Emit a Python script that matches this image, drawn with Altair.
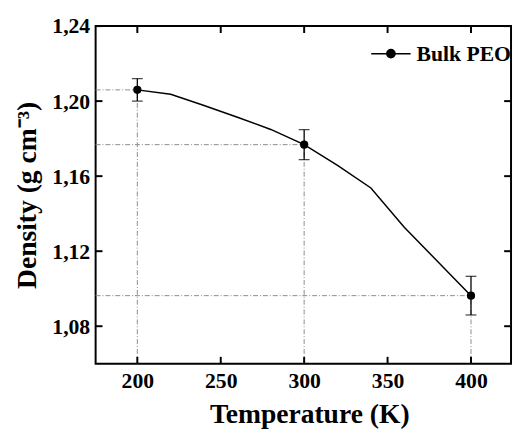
import altair as alt
import pandas as pd

# ---- data ----
temps = [200, 220, 240, 260, 280, 300, 320, 340, 360, 380, 400]
density = [1.206, 1.2037, 1.1977, 1.1914, 1.1849, 1.1768, 1.1657, 1.1537, 1.1328, 1.1145, 1.0963]
meas_T = [200, 300, 400]
meas_D = [1.206, 1.1768, 1.0963]
meas_err = [0.006, 0.008, 0.0103]
series_name = "Bulk PEO"
x_ticks = [200, 250, 300, 350, 400]
y_ticks = [1.08, 1.12, 1.16, 1.20, 1.24]
x_domain = [175, 424]
y_domain = [1.06, 1.24]

FONT = "Liberation Serif"

line_df = pd.DataFrame({"T": temps, "D": density, "series": series_name})
pts_df = pd.DataFrame({
    "T": meas_T, "D": meas_D,
    "lo": [d - e for d, e in zip(meas_D, meas_err)],
    "hi": [d + e for d, e in zip(meas_D, meas_err)],
    "x0": x_domain[0], "y0": y_domain[0],
    "series": series_name,
})
caps_df = pd.concat([
    pd.DataFrame({"T": meas_T, "c": pts_df["lo"]}),
    pd.DataFrame({"T": meas_T, "c": pts_df["hi"]}),
])
xtick_df = pd.DataFrame({"v": x_ticks, "lo": y_domain[0], "hi": y_domain[1]})
ytick_df = pd.DataFrame({"v": y_ticks, "lo": x_domain[0], "hi": x_domain[1]})

xs = alt.Scale(domain=x_domain, nice=False, zero=False)
ys = alt.Scale(domain=y_domain, nice=False, zero=False)

common_axis = dict(domain=False, ticks=False, grid=False,
                   labelFont=FONT, labelFontSize=22, labelFontWeight="bold",
                   labelColor="black", titleFont=FONT, titleFontSize=28,
                   titleFontWeight="bold", titleColor="black")

AX = alt.Axis(values=x_ticks, orient="bottom", title="Temperature (K)",
              labelPadding=7, titlePadding=10, titleX=217, **common_axis)
AY = alt.Axis(values=y_ticks, orient="left", title="Density (g cm\u207b\u00b3)",
              labelExpr="replace(format(datum.value, '.2f'), '.', ',')",
              labelPadding=6, titlePadding=11, **common_axis)


def X(f):
    return alt.X(f, scale=xs, axis=AX)


def Y(f):
    return alt.Y(f, scale=ys, axis=AY)


ref_style = dict(color="#8c8c8c", strokeWidth=1, strokeDash=[5, 2, 1, 2])

ref_h = alt.Chart(pts_df).mark_rule(**ref_style).encode(x=X("x0:Q"), x2="T:Q", y=Y("D:Q"))
ref_v = alt.Chart(pts_df).mark_rule(**ref_style).encode(x=X("T:Q"), y=Y("y0:Q"), y2="D:Q")
err = alt.Chart(pts_df).mark_rule(color="black", strokeWidth=1.3).encode(
    x=X("T:Q"), y=Y("lo:Q"), y2="hi:Q")
caps = alt.Chart(caps_df).mark_tick(color="black", orient="horizontal", size=11, thickness=1.3).encode(
    x=X("T:Q"), y=Y("c:Q"))

# inward ticks on all four sides of the frame (short rules at the tick values)
TL = 7
tk = dict(color="black", strokeWidth=2)
t_bottom = alt.Chart(xtick_df).mark_rule(y2Offset=-TL, **tk).encode(
    x=X("v:Q"), y=Y("lo:Q"), y2="lo:Q")
t_top = alt.Chart(xtick_df).mark_rule(y2Offset=TL, **tk).encode(
    x=X("v:Q"), y=Y("hi:Q"), y2="hi:Q")
t_left = alt.Chart(ytick_df).mark_rule(x2Offset=TL, **tk).encode(
    y=Y("v:Q"), x=X("lo:Q"), x2="lo:Q")
t_right = alt.Chart(ytick_df).mark_rule(x2Offset=-TL, **tk).encode(
    y=Y("v:Q"), x=X("hi:Q"), x2="hi:Q")

legend = alt.Legend(
    title=None, orient="none", legendX=279, legendY=7,
    symbolType="M-1,0L1,0M-0.21,0A0.21,0.21,0,1,1,0.21,0A0.21,0.21,0,1,1,-0.21,0",
    symbolSize=1600, symbolStrokeWidth=1.5, symbolStrokeColor="black", symbolFillColor="black",
    labelFont=FONT, labelFontSize=22, labelFontWeight="bold", labelColor="black",
    labelOffset=5, padding=0,
)
color = alt.Color("series:N", scale=alt.Scale(range=["black"]), legend=legend)

line = alt.Chart(line_df).mark_line(strokeWidth=1.5).encode(
    x=X("T:Q"), y=Y("D:Q"), color=color)
points = alt.Chart(pts_df).mark_point(filled=True, size=70, opacity=1).encode(
    x=X("T:Q"), y=Y("D:Q"), color=color)

chart = alt.layer(ref_h, ref_v, err, caps, line, points, t_bottom, t_top, t_left, t_right).properties(
    width=422, height=343,
    autosize=alt.AutoSizeParams(type="none"),
    padding={"left": 89, "top": 15, "right": 2, "bottom": 68},
    background="white",
).configure_view(stroke="black", strokeWidth=2)

chart.save("out.html", embed_options={"renderer": "svg", "actions": False})
